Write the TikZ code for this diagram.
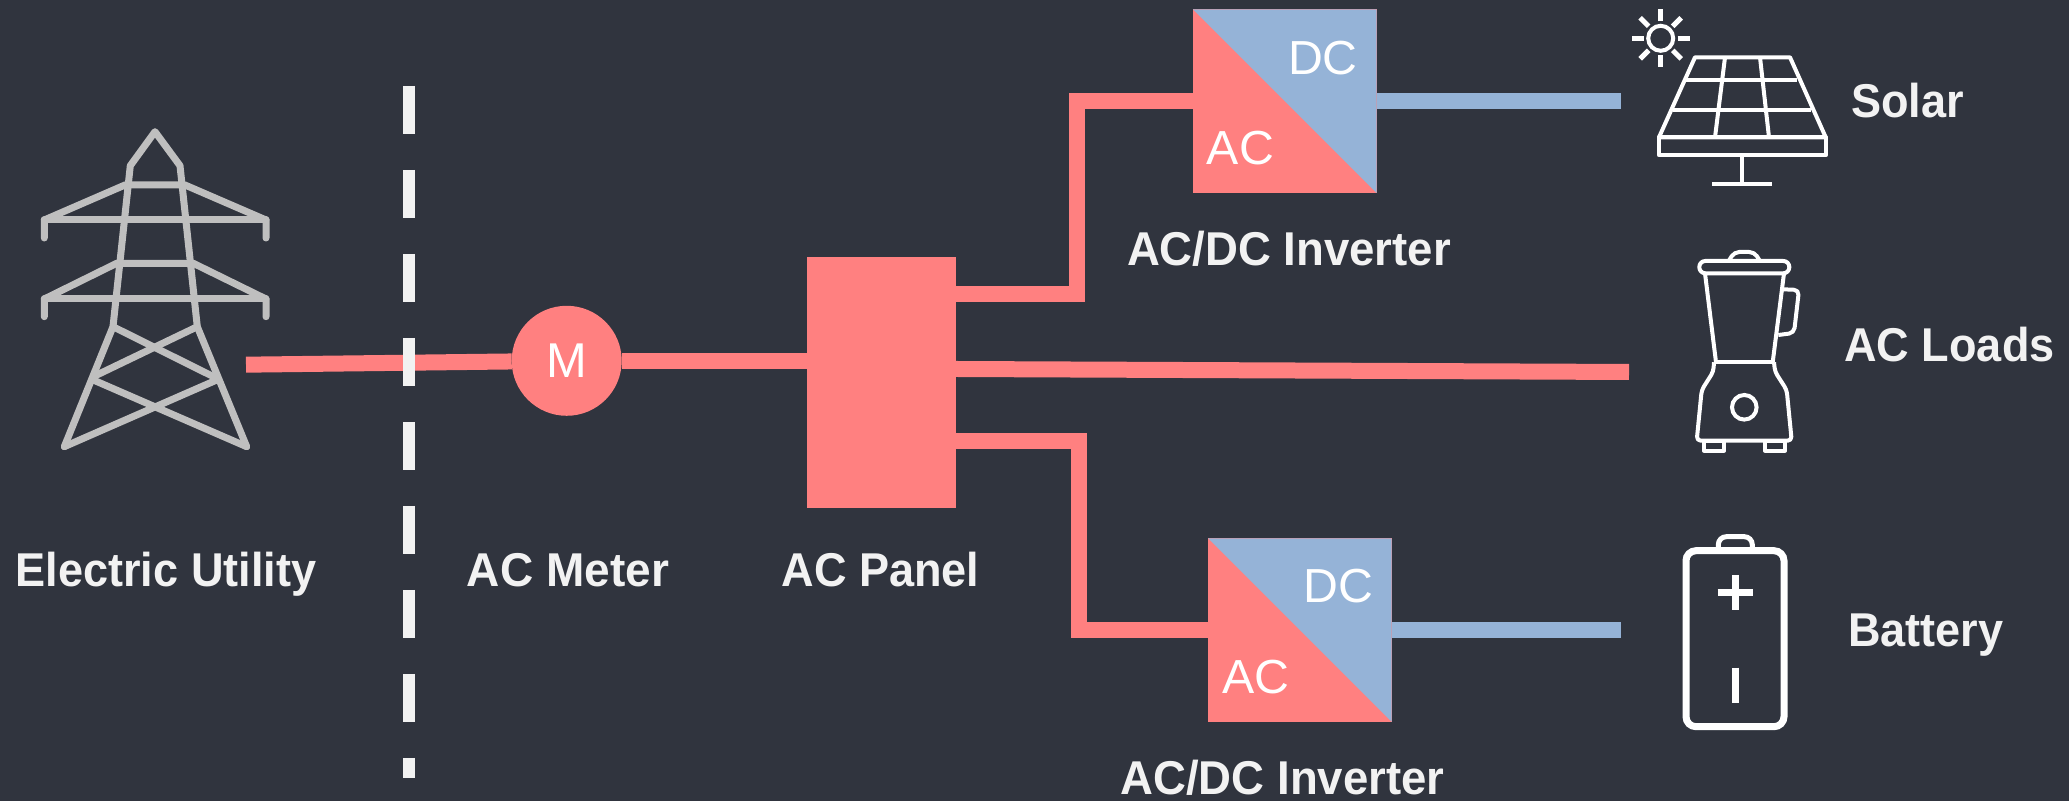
\documentclass[tikz,border=0pt]{standalone}
\usepackage{fontspec}
\setmainfont{Liberation Sans}
\newfontfamily\labelfont[FakeStretch=0.95]{Liberation Sans}
\newfontfamily\meterfont[FakeStretch=0.97]{Liberation Sans}
\newfontfamily\inverterfont[FakeStretch=0.96]{Liberation Sans}
\newfontfamily\convfont[FakeStretch=1.01]{Liberation Sans}

\definecolor{panelbg}{HTML}{30343E}
\definecolor{acred}{HTML}{FF8080}
\definecolor{dcblue}{HTML}{95B3D7}
\definecolor{towergray}{HTML}{BFBFBF}
\definecolor{labelwhite}{HTML}{F2F2F2}

\tikzset{
  acwire/.style={draw=acred, line width=0.16cm, line join=miter},
  dcwire/.style={draw=dcblue, line width=0.16cm},
  borderline/.style={draw=labelwhite, line width=0.12cm, dash pattern=on 0.48cm off 0.36cm},
  towerline/.style={draw=towergray, line width=0.07cm, line cap=round, line join=round},
  iconline/.style={draw=white, line width=0.04cm, line join=round},
  acpanel/.style={
    fill=acred, minimum width=1.485cm, minimum height=2.515cm,
    inner sep=0pt
  },
  meterdisc/.style={
    circle, fill=acred, minimum size=1.10cm,
    inner sep=0pt, text=white,
    font=\fontsize{13.9}{16}\selectfont
  },
  invbox/.style={
    fill=acred, minimum width=1.835cm, minimum height=1.835cm,
    inner sep=0pt
  },
  convtext/.style={
    text=white, inner sep=0pt,
    font=\convfont\fontsize{13.6}{16}\selectfont
  },
  biglabel/.style={
    text=labelwhite, inner sep=0pt, anchor=base,
    font=\labelfont\bfseries\fontsize{13.5}{16}\selectfont
  },
}

\begin{document}
\begin{tikzpicture}[every node/.style={outer sep=0pt}]

\fill[panelbg] (0,0) rectangle (20.69,-8.01);
\useasboundingbox (0,0) rectangle (20.69,-8.01);

%% Free ends of the wires
\coordinate (towerend) at (2.46,-3.647);
\coordinate (mainstart) at (9.55,-3.69);
\coordinate (loadsend) at (16.29,-3.72);
\coordinate (solarend) at (16.21,-1.013);
\coordinate (batteryend) at (16.21,-6.30);
\coordinate (borderA) at (4.09,-0.86);
\coordinate (borderB) at (4.09,-7.78);
\coordinate (bendAa) at (10.765,-2.937);
\coordinate (bendAb) at (10.765,-1.013);
\coordinate (bendBa) at (10.785,-4.41);
\coordinate (bendBb) at (10.785,-6.30);

%% Main blocks
\node[meterdisc] (meter) at (5.667,-3.608) {M};
\node[acpanel, anchor=north west] (panel) at (8.07,-2.567) {};
\node[invbox, anchor=north west] (invA) at (11.93,-0.093) {};
\node[invbox, anchor=north west] (invB) at (12.082,-5.383) {};

%% Wires
\draw[acwire] (towerend) -- (meter);
\draw[acwire] (meter.east) -- (panel.west |- meter.east);
\draw[acwire] (mainstart) -- (loadsend);
\draw[acwire] (panel.east |- bendAa) -- (bendAa) -- (bendAb) -- (invA.west |- bendAb);
\draw[acwire] (panel.east |- bendBa) -- (bendBa) -- (bendBb) -- (invB.west |- bendBb);
\draw[dcwire] (invA.east |- solarend) -- (solarend);
\draw[dcwire] (invB.east |- batteryend) -- (batteryend);
\draw[borderline] (borderA) -- (borderB);

%% Inverters
\fill[dcblue] (invA.north west) -- (invA.north east) -- (invA.south east) -- cycle;
\fill[dcblue] (invB.north west) -- (invB.north east) -- (invB.south east) -- cycle;
\node[convtext] (invAdc) at (13.229,-0.577) {DC};
\node[convtext] (invAac) at (12.404,-1.483) {AC};
\node[convtext] (invBdc) at (13.384,-5.86) {DC};
\node[convtext] (invBac) at (12.563,-6.767) {AC};

%% Labels
\node[biglabel] (utilitylabel) at (1.66,-5.87) {Electric Utility};
\node[biglabel, font=\meterfont\bfseries\fontsize{13.5}{16}\selectfont] (meterlabel) at (5.68,-5.87) {AC Meter};
\node[biglabel] (panellabel) at (8.806,-5.867) {AC Panel};
\node[biglabel, font=\inverterfont\bfseries\fontsize{13.5}{16}\selectfont] (invAlabel) at (12.89,-2.657) {AC/DC Inverter};
\node[biglabel, font=\inverterfont\bfseries\fontsize{13.5}{16}\selectfont] (invBlabel) at (12.825,-7.95) {AC/DC Inverter};
\node[biglabel] (solarlabel) at (19.075,-1.173) {Solar};
\node[biglabel] (loadslabel) at (19.495,-3.617) {AC Loads};
\node[biglabel] (batterylabel) at (19.258,-6.467) {Battery};

%% Pylon
\draw[towerline] (0.643,-4.467) -- (1.13,-3.267) -- (1.303,-1.657)
  -- (1.55,-1.317) -- (1.80,-1.657) -- (1.973,-3.267) -- (2.467,-4.467);
\draw[towerline] (0.443,-2.38) -- (0.443,-2.20) -- (1.25,-1.85) -- (1.85,-1.85)
  -- (2.66,-2.20) -- (2.66,-2.38);
\draw[towerline] (0.443,-2.20) -- (2.66,-2.20);
\draw[towerline] (0.443,-3.167) -- (0.443,-2.99) -- (1.167,-2.633) -- (1.933,-2.633)
  -- (2.66,-2.99) -- (2.66,-3.167);
\draw[towerline] (0.443,-2.99) -- (2.66,-2.99);
\draw[towerline] (1.13,-3.267) -- (2.167,-3.783);
\draw[towerline] (1.973,-3.267) -- (0.933,-3.767);
\draw[towerline] (0.933,-3.80) -- (2.467,-4.467);
\draw[towerline] (2.167,-3.80) -- (0.643,-4.467);

%% Solar panel
\draw[iconline] (16.95,-0.573) -- (17.90,-0.573) -- (18.257,-1.373) -- (16.59,-1.373) -- cycle;
\draw[iconline] (16.59,-1.373) rectangle (18.257,-1.553);
\draw[iconline] (16.86,-0.80) -- (17.973,-0.80);
\draw[iconline] (16.727,-1.10) -- (18.107,-1.10);
\draw[iconline] (17.25,-0.573) -- (17.15,-1.373);
\draw[iconline] (17.60,-0.573) -- (17.69,-1.373);
\draw[iconline] (17.423,-1.553) -- (17.423,-1.843);
\draw[iconline] (17.123,-1.843) -- (17.723,-1.843);

%% Sun
\node[circle, draw=white, line width=0.04cm, minimum size=0.25cm, inner sep=0pt] (sun) at (16.607,-0.383) {};
\foreach \a in {0,45,...,315}
  \draw[draw=white, line width=0.05cm] ([shift={(\a:0.17)}]sun.center) -- ([shift={(\a:0.29)}]sun.center);

%% Blender
\draw[iconline, rounded corners=0.06cm] (16.993,-2.61) rectangle (17.893,-2.733);
\draw[iconline, rounded corners=0.05cm] (17.293,-2.60) -- (17.343,-2.52) -- (17.543,-2.52) -- (17.593,-2.60);
\draw[iconline] (17.05,-2.733) -- (17.16,-3.623);
\draw[iconline] (17.84,-2.733) -- (17.727,-3.623);
\draw[iconline] (17.14,-3.623) -- (17.74,-3.623);
\draw[iconline, rounded corners=0.05cm] (17.827,-2.893) -- (17.99,-2.90) -- (17.94,-3.33) -- (17.783,-3.35);
\draw[iconline, rounded corners=0.04cm] (17.14,-3.623) -- (17.133,-3.717) -- (17.017,-3.90) -- (16.967,-4.407)
  -- (17.917,-4.407) -- (17.867,-3.90) -- (17.75,-3.717) -- (17.74,-3.623);
\node[circle, draw=white, line width=0.04cm, minimum size=0.246cm, inner sep=0pt] (button) at (17.443,-4.073) {};
\draw[iconline] (17.04,-4.407) rectangle (17.24,-4.507);
\draw[iconline] (17.65,-4.407) rectangle (17.85,-4.507);

%% Battery
\draw[draw=white, line width=0.07cm, rounded corners=0.10cm] (16.86,-5.507) rectangle (17.84,-7.267);
\draw[draw=white, line width=0.05cm, rounded corners=0.08cm] (17.183,-5.49) -- (17.183,-5.367) -- (17.523,-5.367) -- (17.523,-5.49);
\draw[draw=white, line width=0.07cm] (17.175,-5.923) -- (17.525,-5.923);
\draw[draw=white, line width=0.07cm] (17.35,-5.748) -- (17.35,-6.098);
\draw[draw=white, line width=0.07cm] (17.35,-6.677) -- (17.35,-7.027);

\end{tikzpicture}
\end{document}
